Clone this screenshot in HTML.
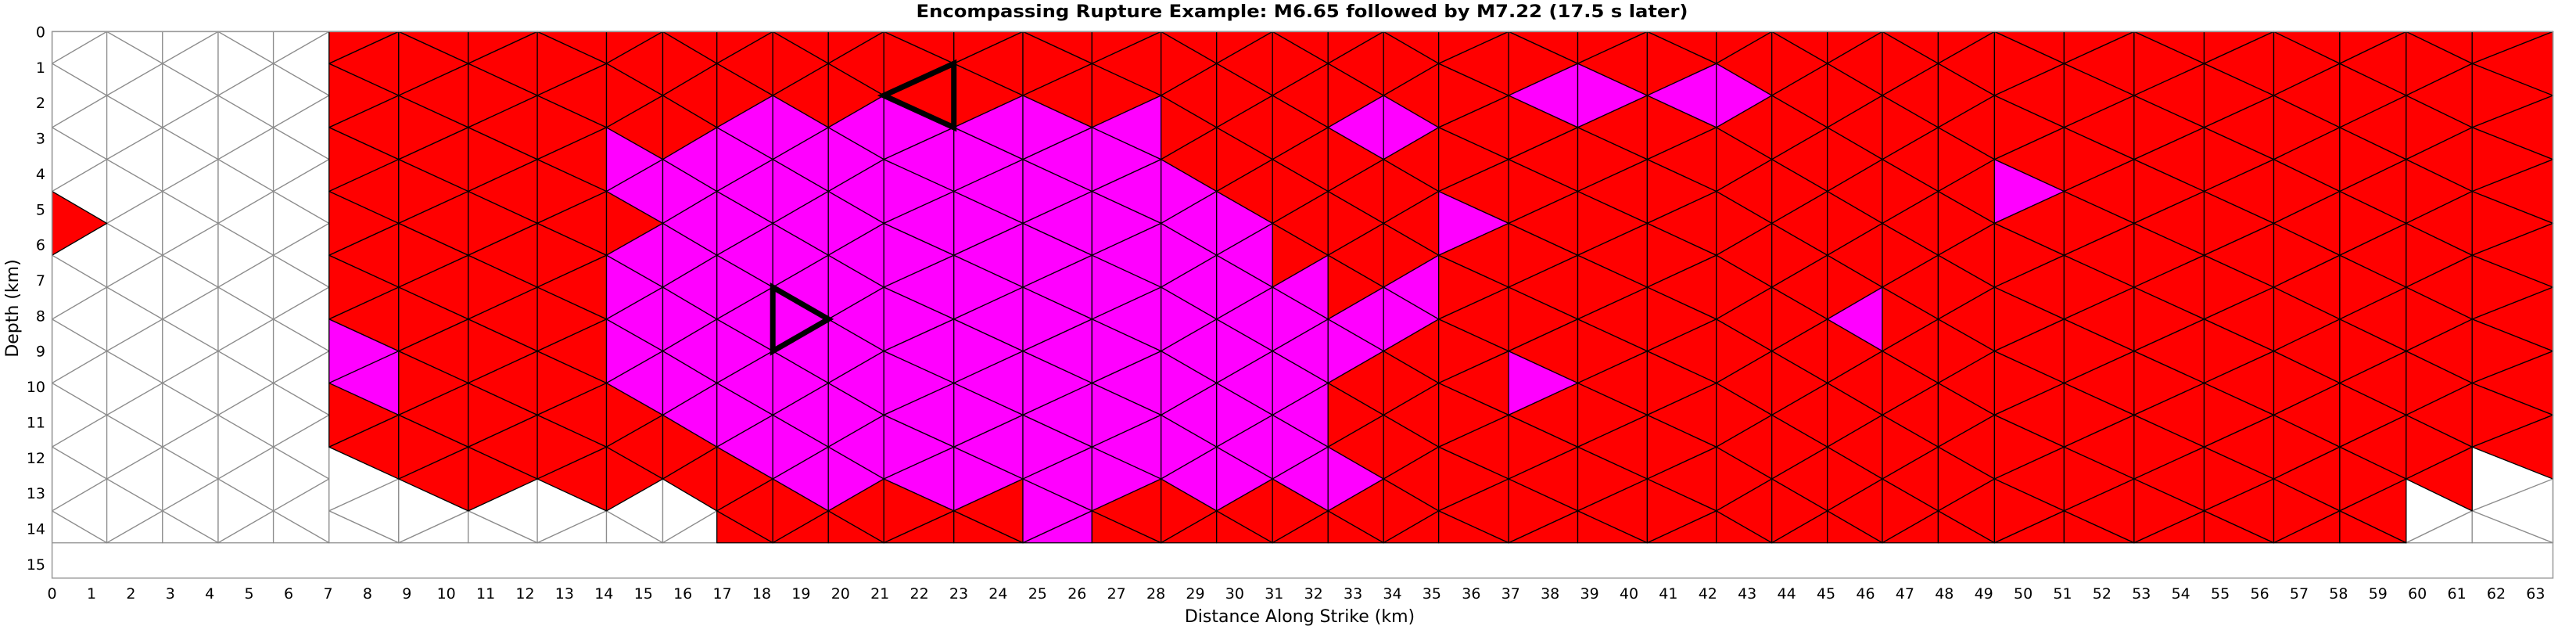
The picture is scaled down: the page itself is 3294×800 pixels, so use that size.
<!DOCTYPE html>
<html><head><meta charset="utf-8"><style>
html,body{margin:0;padding:0;background:#fff;}
svg{display:block;font-family:"DejaVu Sans","Liberation Sans",sans-serif;}
</style></head><body>
<svg id="chart" width="3294" height="800" viewBox="0 0 3294 800" xmlns="http://www.w3.org/2000/svg">
<text x="1665" y="22" text-anchor="middle" font-size="22" font-weight="bold" textLength="987" lengthAdjust="spacingAndGlyphs">Encompassing Rupture Example: M6.65 followed by M7.22 (17.5 s later)</text>
<g id="mesh"></g>
<g id="hypo"></g>
<rect x="66.6" y="40.4" width="3197.9" height="698.4" fill="none" stroke="#999" stroke-width="1.5"/>
<g id="xticks"></g>
<g id="yticks"></g>
<text x="1662" y="795" text-anchor="middle" font-size="22">Distance Along Strike (km)</text>
<text transform="translate(23,394) rotate(-90)" text-anchor="middle" font-size="22">Depth (km)</text>
</svg>
<script>
// ---- data ----
const whiteLinesKm = [0, 1.389, 2.801, 4.213, 5.614, 7.026];
const redLinesKm = [7.026, 8.792, 10.557, 12.309, 14.063, 15.491, 16.864, 18.282, 19.691, 21.099, 22.875, 24.626, 26.378, 28.131, 29.540, 30.958, 32.367, 33.775, 35.173, 36.947, 38.701, 40.464, 42.216, 43.624, 45.033, 46.427, 47.844, 49.272, 51.037, 52.813, 54.590, 56.356, 58.030, 59.715, 61.389, 63.438];
const rowDepthKm = [0, 0.9, 1.8, 2.7, 3.6, 4.5, 5.4, 6.3, 7.2, 8.1, 9.0, 9.9, 10.8, 11.7, 12.6, 13.5, 14.4];
// slot colours per column (17 slots, top->bottom): R red, M magenta, W white
const whiteCols = [
 "WWWWWWRWWWWWWWWWW","WWWWWWWWWWWWWWWWW","WWWWWWWWWWWWWWWWW","WWWWWWWWWWWWWWWWW","WWWWWWWWWWWWWWWWW"];
const redCols = [
 "RRRRRRRRRRMMRRWWW", // 0
 "RRRRRRRRRRRRRRRWW", // 1
 "RRRRRRRRRRRRRRRWW", // 2
 "RRRRRRRRRRRRRRRWW", // 3
 "RRRRMMRMMMMMRRRWW", // 4
 "RRRRMMMMMMMMMRRWW", // 5
 "RRRMMMMMMMMMMMRRR", // 6
 "RRRMMMMMMMMMMMMRR", // 7
 "RRRMMMMMMMMMMMMRR", // 8
 "RRRMMMMMMMMMMMMRR", // 9
 "RRRMMMMMMMMMMMMRR", // 10
 "RRRMMMMMMMMMMMMMM", // 11
 "RRRMMMMMMMMMMMMRR", // 12
 "RRRRRMMMMMMMMMMRR", // 13
 "RRRRRRMMMMMMMMMRR", // 14
 "RRRRRRRRMMMMMMMRR", // 15
 "RRRMRRRRRMMRRRMRR", // 16
 "RRRMRRRRMMRRRRRRR", // 17
 "RRRRRRMRRRRRRRRRR", // 18
 "RRMRRRRRRRRMRRRRR", // 19
 "RRMRRRRRRRRRRRRRR", // 20
 "RRMRRRRRRRRRRRRRR", // 21
 "RRMRRRRRRRRRRRRRR", // 22
 "RRRRRRRRRRRRRRRRR", // 23
 "RRRRRRRRRMRRRRRRR", // 24
 "RRRRRRRRRRRRRRRRR", // 25
 "RRRRRRRRRRRRRRRRR", // 26
 "RRRRRMRRRRRRRRRRR", // 27
 "RRRRRRRRRRRRRRRRR", // 28
 "RRRRRRRRRRRRRRRRR", // 29
 "RRRRRRRRRRRRRRRRR", // 30
 "RRRRRRRRRRRRRRRRR", // 31
 "RRRRRRRRRRRRRRRRR", // 32
 "RRRRRRRRRRRRRRRWW", // 33
 "RRRRRRRRRRRRRRWWW"  // 34
];
const hypoCols = [9, 7];
const hypoSlots = [2, 9];
const xTickLabels = Array.from({length:64},(_,i)=>String(i));
const yTickLabels = ["0","1","2","3","4","5","6","7","8","9","10","11","12","13","14","15"];

// ---- axes ----
const X0 = 66.6, XS = 50.41, Y0 = 40.4, YS = 45.37;
const xPx = km => X0 + km*XS;
const yPx = km => Y0 + km*YS;
const NS = "http://www.w3.org/2000/svg";
const COL = {R:"#ff0000", M:"#ff00ff", W:"#ffffff"};

function slotTri(xl, xr, leftOdd, s){
  const xO = leftOdd ? xl : xr, xE = leftOdd ? xr : xl;
  if (s === 0) return [[xO,0],[xO,1],[xE,0]];
  if (s === 16) return [[xO,15],[xO,16],[xE,16]];
  if (s % 2 === 1) return [[xE,s-1],[xE,s+1],[xO,s]];
  return [[xO,s-1],[xO,s+1],[xE,s]];
}
function ptsStr(tri){ return tri.map(p => xPx(p[0]).toFixed(2)+","+yPx(rowDepthKm[p[1]]).toFixed(2)).join(" "); }

const mesh = document.getElementById("mesh");
function drawMesh(lines, cols){
  for (const pass of [0,1]){
    cols.forEach((str, c) => {
      const leftOdd = (c % 2 === 0);
      for (let s = 0; s < 17; s++){
        const k = str[s];
        const isWhite = k === "W";
        if ((pass === 0) !== isWhite) continue;
        const p = document.createElementNS(NS, "polygon");
        
        
        p.setAttribute("points", ptsStr(slotTri(lines[c], lines[c+1], leftOdd, s)));
        p.setAttribute("fill", COL[k]);
        p.setAttribute("stroke", isWhite ? "#8c8c8c" : "#000");
        p.setAttribute("stroke-width", "1.3");
        p.setAttribute("stroke-linejoin", "round");
        mesh.appendChild(p);
      }
    });
  }
}
drawMesh(whiteLinesKm, whiteCols);
drawMesh(redLinesKm, redCols);

const hypo = document.getElementById("hypo");
hypoCols.forEach((c, i) => {
  const p = document.createElementNS(NS, "polygon");
  
  
  p.setAttribute("points", ptsStr(slotTri(redLinesKm[c], redLinesKm[c+1], c % 2 === 0, hypoSlots[i])));
  p.setAttribute("fill", "none");
  p.setAttribute("stroke", "#000");
  p.setAttribute("stroke-width", "7");
  p.setAttribute("stroke-linejoin", "miter");
  hypo.appendChild(p);
});

const xt = document.getElementById("xticks");
xTickLabels.forEach((lab, i) => {
  const t = document.createElementNS(NS, "text");
  
  
  t.setAttribute("x", xPx(+lab).toFixed(1));
  t.setAttribute("y", "765");
  t.setAttribute("text-anchor", "middle");
  t.setAttribute("font-size", "19");
  t.textContent = lab;
  xt.appendChild(t);
});
const yt = document.getElementById("yticks");
yTickLabels.forEach(lab => {
  const t = document.createElementNS(NS, "text");
  
  
  t.setAttribute("x", "58");
  t.setAttribute("y", (yPx(+lab) + 7).toFixed(1));
  t.setAttribute("text-anchor", "end");
  t.setAttribute("font-size", "19");
  t.textContent = lab;
  yt.appendChild(t);
});
</script>
</body></html>
